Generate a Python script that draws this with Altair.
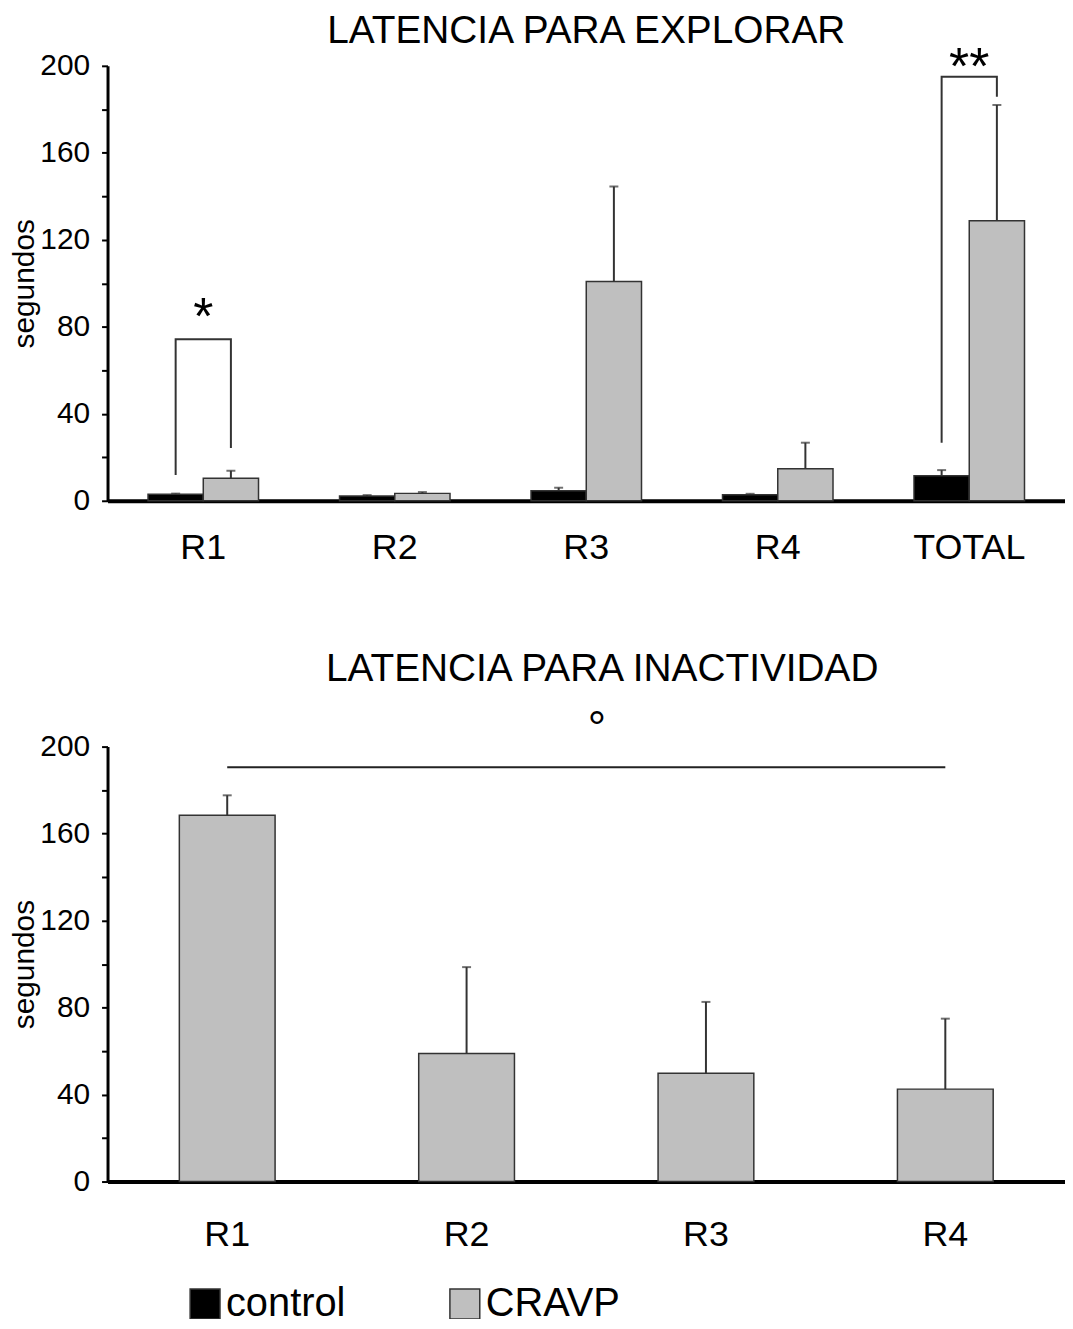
import altair as alt
import pandas as pd

# ---------------- data ----------------
cats_top = ["R1", "R2", "R3", "R4", "TOTAL"]
groups = ["control", "CRAVP"]
control_mean = [3.0, 2.2, 4.6, 2.8, 11.5]
control_sem = [0.3, 0.4, 1.4, 0.4, 2.6]
cravp_mean_top = [10.4, 3.4, 100.8, 14.7, 128.8]
cravp_sem_top = [3.4, 0.6, 43.7, 12.0, 53.2]

cats_bottom = ["R1", "R2", "R3", "R4"]
cravp_mean_bottom = [168.4, 58.9, 49.8, 42.5]
cravp_sem_bottom = [9.2, 39.7, 32.8, 32.4]

# significance annotations (values in seconds)
bracket_r1 = [11.9, 74.3, 74.3, 24.3]
bracket_total = [26.7, 195.0, 195.0, 185.8]
star_r1_y = 76.6
star_total_y = 191.7
line_bottom_y = 190.5
circle_y = 201.0

FONT = "Liberation Sans"
W = 962
H = 437

# ---------------- tables ----------------
rows = []
for i, c in enumerate(cats_top):
    rows.append({"cat": c, "group": "control", "mean": control_mean[i],
                 "upper": control_mean[i] + control_sem[i]})
    rows.append({"cat": c, "group": "CRAVP", "mean": cravp_mean_top[i],
                 "upper": cravp_mean_top[i] + cravp_sem_top[i]})
df_top = pd.DataFrame(rows)

br_rows = []
for c, vals in [("R1", bracket_r1), ("TOTAL", bracket_total)]:
    gseq = ["control", "control", "CRAVP", "CRAVP"]
    for j in range(4):
        br_rows.append({"cat": c, "group": gseq[j], "v": vals[j], "ord": j, "id": c})
df_br = pd.DataFrame(br_rows)

df_stars = pd.DataFrame({"cat": ["R1", "TOTAL"], "v": [star_r1_y, star_total_y],
                         "txt": ["*", "**"]})

df_bot = pd.DataFrame({"cat": cats_bottom, "group": ["CRAVP"] * 4,
                       "mean": cravp_mean_bottom,
                       "upper": [m + s for m, s in zip(cravp_mean_bottom, cravp_sem_bottom)]})
df_line = pd.DataFrame({"cat": ["R1", "R4"], "v": [line_bottom_y, line_bottom_y]})
df_circ = pd.DataFrame({"cat": ["R2"], "v": [circle_y], "txt": ["°"]})

# ---------------- scales / axes ----------------
color_scale = alt.Scale(domain=groups, range=["#000000", "#bfbfbf"])

def y_axis():
    return alt.Axis(values=list(range(0, 201, 20)),
                    labelExpr="datum.value % 40 == 0 ? datum.label : ''",
                    title="segundos", titleFontSize=30, titleFontWeight="normal",
                    titleFont=FONT, titleColor="black", titlePadding=0,
                    labelFont=FONT, labelFontSize=30, labelColor="black", labelPadding=12,
                    tickSize=6, tickWidth=2, tickColor="black",
                    domainWidth=3, domainColor="black", grid=False)

def x_axis(pad):
    return alt.Axis(title=None, labelAngle=0, labelFont=FONT, labelFontSize=36,
                    labelColor="black", labelPadding=pad, ticks=False, tickSize=0,
                    domainWidth=4, domainColor="black", grid=False)

y_scale = alt.Scale(domain=[0, 200], nice=False)

# ---------------- top chart ----------------
xt = alt.X("cat:N", sort=cats_top,
           scale=alt.Scale(domain=cats_top, paddingInner=0.423, paddingOuter=0.2115),
           axis=x_axis(30))
xo = alt.XOffset("group:N", sort=groups,
                 scale=alt.Scale(domain=groups, paddingInner=0, paddingOuter=0))

bars_top = alt.Chart(df_top).mark_bar(stroke="#333333", strokeWidth=1.5).encode(
    x=xt, xOffset=xo,
    y=alt.Y("mean:Q", scale=y_scale, axis=y_axis()),
    color=alt.Color("group:N", scale=color_scale,
                    legend=alt.Legend(title=None, orient="none", legendX=78, legendY=1224,
                                      direction="horizontal", columns=2, columnPadding=99,
                                      padding=0,
                                      symbolType="square", symbolSize=900,
                                      symbolStrokeColor="#555555", symbolStrokeWidth=1.5,
                                      symbolOpacity=1, labelFont=FONT, labelFontSize=40,
                                      labelColor="black", labelOffset=1, labelLimit=300)),
)
err_top = alt.Chart(df_top).mark_rule(color="#333333", strokeWidth=2).encode(
    x=xt, xOffset=xo, y=alt.Y("mean:Q", scale=y_scale), y2="upper:Q")
cap_top = alt.Chart(df_top).mark_tick(color="#333333", thickness=2, size=9).encode(
    x=xt, xOffset=xo, y=alt.Y("upper:Q", scale=y_scale))
brackets = alt.Chart(df_br).mark_line(color="#333333", strokeWidth=2).encode(
    x=xt, xOffset=xo, y=alt.Y("v:Q", scale=y_scale), order="ord:Q", detail="id:N")
stars = alt.Chart(df_stars).mark_text(font=FONT, fontSize=52, baseline="alphabetic",
                                      color="black").encode(
    x=xt, y=alt.Y("v:Q", scale=y_scale), text="txt:N")

top = alt.layer(bars_top, err_top, cap_top, brackets, stars).properties(
    width=W, height=H,
    title=alt.TitleParams("LATENCIA PARA EXPLORAR", font=FONT, fontSize=39,
                          fontWeight="normal", color="black", anchor="middle", offset=-9))

# ---------------- bottom chart ----------------
xb = alt.X("cat:N", sort=cats_bottom,
           scale=alt.Scale(domain=cats_bottom, paddingInner=0.6, paddingOuter=0.3),
           axis=x_axis(36))

bars_bot = alt.Chart(df_bot).mark_bar(stroke="#333333", strokeWidth=1.5).encode(
    x=xb, y=alt.Y("mean:Q", scale=y_scale, axis=y_axis()),
    color=alt.Color("group:N", scale=color_scale))
err_bot = alt.Chart(df_bot).mark_rule(color="#333333", strokeWidth=2).encode(
    x=xb, y=alt.Y("mean:Q", scale=y_scale), y2="upper:Q")
cap_bot = alt.Chart(df_bot).mark_tick(color="#333333", thickness=2, size=9).encode(
    x=xb, y=alt.Y("upper:Q", scale=y_scale))
hline = alt.Chart(df_line).mark_line(color="#222222", strokeWidth=2).encode(
    x=xb, y=alt.Y("v:Q", scale=y_scale))
circ = alt.Chart(df_circ).mark_text(font=FONT, fontSize=46, baseline="alphabetic",
                                    color="black", dx=131).encode(
    x=xb, y=alt.Y("v:Q", scale=y_scale), text="txt:N")

bottom = alt.layer(bars_bot, err_bot, cap_bot, hline, circ).properties(
    width=W, height=H,
    title=alt.TitleParams("LATENCIA PARA INACTIVIDAD", font=FONT, fontSize=39,
                          fontWeight="normal", color="black", anchor="middle",
                          offset=19, dx=16))

chart = alt.vconcat(top, bottom, spacing=84).resolve_scale(
    x="independent", y="independent", xOffset="independent"
).properties(padding={"left": 1, "top": 1, "right": 0, "bottom": -8}
).configure(font=FONT, background="white").configure_view(stroke=None)

chart.save("out.html", embed_options={"renderer": "svg", "actions": False})
